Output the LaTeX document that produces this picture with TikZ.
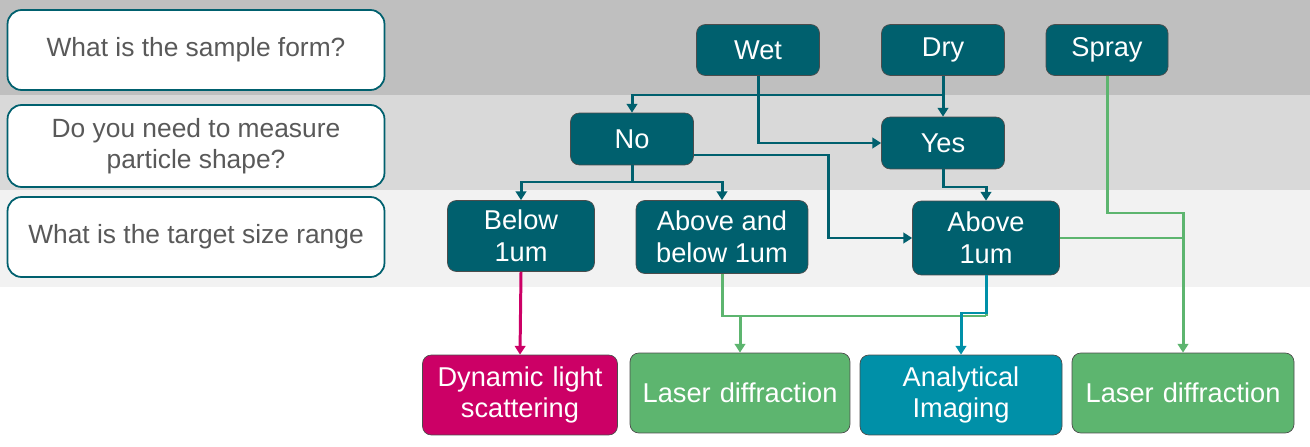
\documentclass[tikz,border=0pt]{standalone}
\usepackage{fontspec}
\setmainfont{Liberation Sans}
\usetikzlibrary{arrows.meta,positioning,calc}
\definecolor{tealdark}{HTML}{00606E}
\definecolor{tealmid}{HTML}{0090A8}
\definecolor{greenbox}{HTML}{5DB56F}
\definecolor{magbox}{HTML}{CC0066}
\definecolor{qtext}{HTML}{595959}
\tikzset{
  stepbox/.style={draw=black!70,fill=tealdark,text=white,rounded corners=5pt,
    align=center,font=\fontsize{15.5}{18}\selectfont,inner sep=0pt},
  result/.style={stepbox,text width=3.9cm,minimum height=1.6cm},
  question/.style={draw=tealdark,line width=1pt,fill=white,text=qtext,rounded corners=8pt,
    align=center,font=\fontsize{15}{17.5}\selectfont,minimum width=7.54cm,inner sep=0pt},
  link/.style={tealdark,line width=1.7pt,-{Triangle[length=5pt,width=6pt]}},
  glink/.style={greenbox,line width=1.7pt,-{Triangle[length=5pt,width=6pt]}}
}
\begin{document}
\begin{tikzpicture}[x=0.02cm,y=-0.02cm]
  \useasboundingbox (0,0) rectangle (1310,446);
  % bands
  \fill[black!25] (0,0) rectangle (1310,95);
  \fill[black!15] (0,95) rectangle (1310,190);
  \fill[black!5] (0,190) rectangle (1310,287);

  % questions
  \node[question,minimum height=1.6cm] (q1) at (196,50) {What is the sample form?};
  \node[question,minimum height=1.64cm] (q2) at (196,146) {Do you need to measure\\particle shape?};
  \node[question,minimum height=1.6cm] (q3) at (196,237) {What is the target size range};

  % steps
  \node[stepbox,minimum width=2.46cm,minimum height=1.02cm] (wet) at (758,50) {Wet};
  \node[stepbox,minimum width=2.46cm,minimum height=1.02cm] (dry) at (943,50) {Dry};
  \node[stepbox,minimum width=2.44cm,minimum height=1.02cm] (spray) at (1107,50) {Spray};
  \node[stepbox,minimum width=2.46cm,minimum height=1.04cm] (no) at (632,139) {No};
  \node[stepbox,minimum width=2.46cm,minimum height=1.04cm] (yes) at (943,143) {Yes};
  \node[stepbox,minimum width=2.94cm,minimum height=1.42cm] (below) at (521,236) {Below\\1um};
  \node[stepbox,minimum width=3.44cm,minimum height=1.46cm] (both) at (722,237) {Above and\\below 1um};
  \node[stepbox,minimum width=2.94cm,minimum height=1.48cm] (above) at (986,238) {Above\\1um};

  % results
  \node[result,fill=magbox] (dls) at (520,395) {Dynamic light\\scattering};
  \node[result,fill=greenbox,text width=4.4cm] (ld1) at (740,393) {Laser diffraction};
  \node[result,fill=tealmid,text width=4.04cm] (ai) at (961,395) {Analytical\\Imaging};
  \node[result,fill=greenbox,text width=4.44cm] (ld2) at (1183,393) {Laser diffraction};

  % connectors
  \draw[link] (wet.south) |- (632,95) -- (no.north);
  \draw[link] (dry.south) -- (yes.north);
  \draw[tealdark,line width=1.7pt] (wet.south) |- (dry.south |- 0,95);
  \draw[link] (wet.south) |- (yes.west);
  \draw[link] (no.south) |- (521,182) -- (below.north);
  \draw[link] (no.south) |- (722,182) -- (both.north);
  \draw[link] (no.east |- 0,155) -| (828,238) |- (above.west);
  \draw[link] (yes.south) |- (986,187) -- (above.north);
  \draw[link,magbox] (below.south) -- (dls.north);
  \draw[glink] (both.south) |- (986,316) (740,316) -- (ld1.north);
  \draw[greenbox,line width=1.7pt] (above.south) -- (986,316);
  \draw[link,tealmid] (986,275) -- (986,313) -| (ai.north);
  \draw[glink] (spray.south) |- (1183,213) -- (ld2.north);
  \draw[greenbox,line width=1.7pt] (above.east) -| (1183,213);
\end{tikzpicture}
\end{document}
